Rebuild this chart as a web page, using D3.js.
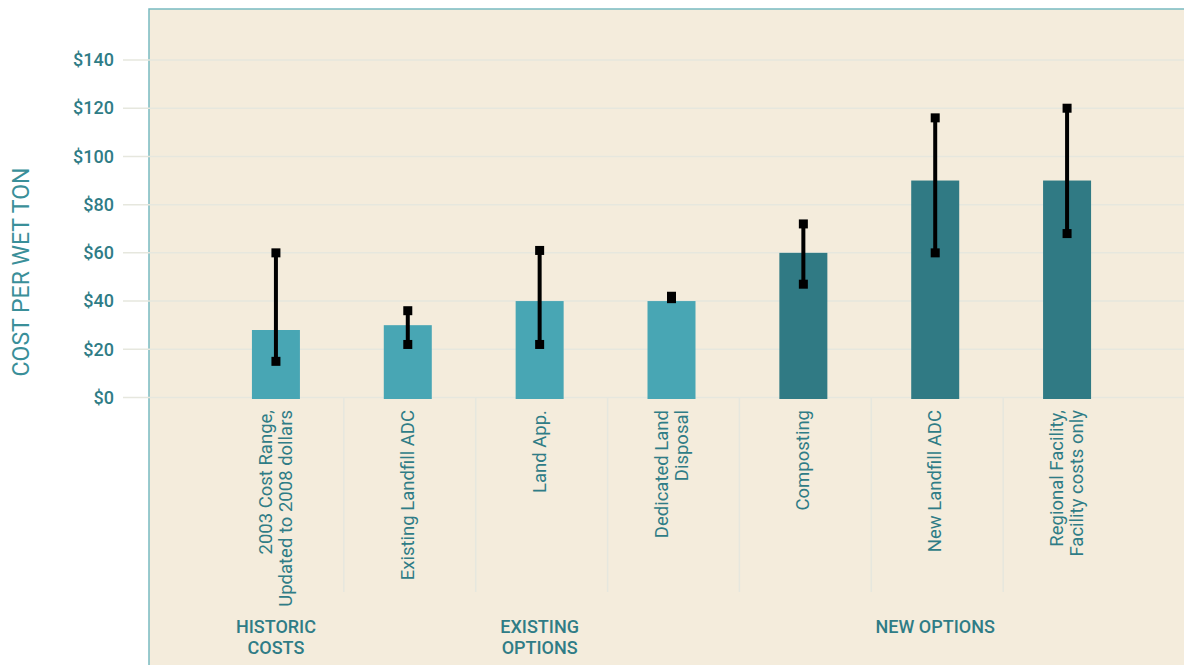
<!DOCTYPE html>
<html>
<head>
<meta charset="utf-8">
<script src="https://cdn.jsdelivr.net/npm/d3@7"></script>
<style>
  body { margin: 0; background: #fff; }
  text { font-family: Roboto, "Noto Sans", sans-serif; }
</style>
</head>
<body>
<div id="chart"></div>
<script>
// categories (line breaks as arrays), costs per wet ton, error ranges
const categories = [
  ['2003 Cost Range,', 'Updated to 2008 dollars'],
  ['Existing Landfill ADC'],
  ['Land App.'],
  ['Dedicated Land', 'Disposal'],
  ['Composting'],
  ['New Landfill ADC'],
  ['Regional Facility,', 'Facility costs only'],
];
const groupOf = ['historic', 'existing', 'existing', 'existing', 'new', 'new', 'new'];
const costs = [28, 30, 40, 40, 60, 90, 90];
const lows = [15, 22, 22, 41, 47, 60, 68];
const highs = [60, 36, 61, 42, 72, 116, 120];
const yTicks = [0, 20, 40, 60, 80, 100, 120, 140];
const groups = [
  { key: 'historic', label: ['HISTORIC', 'COSTS'], at: 0 },
  { key: 'existing', label: ['EXISTING', 'OPTIONS'], at: 2 },
  { key: 'new', label: ['NEW OPTIONS'], at: 5 },
];

const width = 1184;
const height = 665;
const teal = '#2f7c86';
const barColor = { historic: '#48a6b4', existing: '#48a6b4', new: '#307a84' };
const gridColor = '#e6e7de';

const svg = d3.select('#chart')
  .append('svg')
  .attr('width', width)
  .attr('height', height);

// panel
svg.append('rect')
  .attr('x', 149)
  .attr('y', 9)
  .attr('width', width)
  .attr('height', height)
  .style('fill', '#f4ecdc')
  .style('stroke', '#78bac1')
  .style('stroke-width', 1.5);

const idx = categories.map((d, i) => i);

const x = d3.scaleBand()
  .domain(idx)
  .range([210, 1133])
  .padding(0);

const y = d3.scaleLinear()
  .domain([0, 140])
  .range([397.5, 60]);

// gridlines
svg.append('g')
  .selectAll('line')
  .data(yTicks)
  .join('line')
  .attr('x1', 123)
  .attr('x2', width)
  .attr('y1', d => y(d))
  .attr('y2', d => y(d))
  .style('stroke', gridColor)
  .style('stroke-width', 1.5);

// y axis labels
const yAxis = svg.append('g')
  .attr('transform', 'translate(114,0)')
  .call(d3.axisLeft(y).tickValues(yTicks).tickSize(0).tickPadding(0).tickFormat(d => '$' + d));
yAxis.select('.domain').remove();
yAxis.selectAll('text')
  .style('font-size', '18px')
  .style('font-weight', 500)
  .style('fill', teal)
  .style('font-family', 'Roboto, sans-serif');

svg.append('text')
  .attr('transform', `translate(29, 272) rotate(-90)`)
  .attr('text-anchor', 'middle')
  .style('font-size', '23px')
  .style('fill', '#3a8f99')
  .text('COST PER WET TON');

// separators between categories
svg.append('g')
  .selectAll('line')
  .data(idx.slice(1))
  .join('line')
  .attr('x1', d => x(d) + 2)
  .attr('x2', d => x(d) + 2)
  .attr('y1', y(0))
  .attr('y2', 592)
  .style('stroke', gridColor)
  .style('stroke-width', 1.5);

// bars
const barW = 48;
svg.append('g')
  .selectAll('rect')
  .data(idx)
  .join('rect')
  .attr('x', d => x(d) + x.bandwidth() / 2 - barW / 2)
  .attr('y', d => y(costs[d]))
  .attr('width', barW)
  .attr('height', d => y(0) - y(costs[d]) + 1.5)
  .style('fill', d => barColor[groupOf[d]]);

// error bars
const eb = svg.append('g');
const cap = 9;
eb.selectAll('line')
  .data(idx)
  .join('line')
  .attr('x1', d => x(d) + x.bandwidth() / 2)
  .attr('x2', d => x(d) + x.bandwidth() / 2)
  .attr('y1', d => y(lows[d]))
  .attr('y2', d => y(highs[d]))
  .style('stroke', '#000')
  .style('stroke-width', 4);

const caps = idx.flatMap(i => [{ i, v: lows[i] }, { i, v: highs[i] }]);
eb.selectAll('rect')
  .data(caps)
  .join('rect')
  .attr('x', d => x(d.i) + x.bandwidth() / 2 - cap / 2)
  .attr('y', d => y(d.v) - cap / 2)
  .attr('width', cap)
  .attr('height', cap)
  .style('fill', '#000');

// category labels (rotated)
const lineH = 20;
const lab = svg.append('g')
  .selectAll('text')
  .data(idx)
  .join('text')
  .attr('transform', d => {
    const cx = x(d) + x.bandwidth() / 2;
    const n = categories[d].length;
    return `translate(${cx - (n - 1) * lineH / 2 + 6}, 410) rotate(-90)`;
  })
  .attr('text-anchor', 'end')
  .style('font-size', '18.5px')
  .style('fill', teal);

lab.selectAll('tspan')
  .data(d => categories[d])
  .join('tspan')
  .attr('x', 0)
  .attr('dy', (d, i) => i === 0 ? 0 : lineH)
  .text(d => d);

// group labels
const gl = svg.append('g')
  .selectAll('text')
  .data(groups)
  .join('text')
  .attr('text-anchor', 'middle')
  .attr('transform', d => `translate(${x(d.at) + x.bandwidth() / 2}, 633)`)
  .style('font-size', '18px')
  .style('font-weight', 500)
  .style('fill', teal);

gl.selectAll('tspan')
  .data(d => d.label)
  .join('tspan')
  .attr('x', 0)
  .attr('dy', (d, i) => i === 0 ? 0 : 21)
  .text(d => d);
</script>
</body>
</html>
